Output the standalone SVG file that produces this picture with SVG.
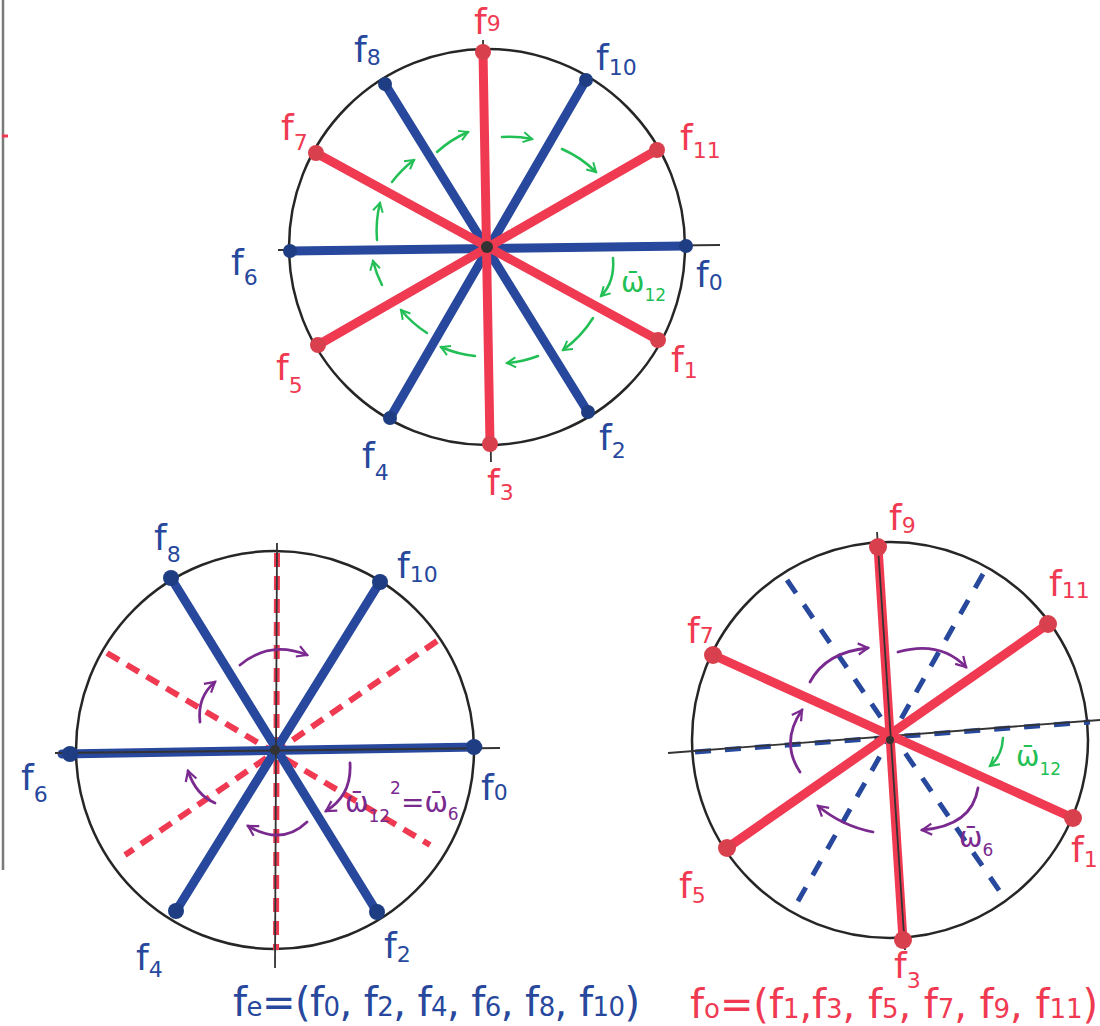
<svg xmlns="http://www.w3.org/2000/svg" width="1100" height="1026" viewBox="0 0 1100 1026">
<style>
.circ{fill:none;stroke:#262626;stroke-width:2.5}
.axis{stroke:#333;stroke-width:1.8;fill:none}
.sr{stroke:#f03a52;stroke-width:9;stroke-linecap:round}
.sb{stroke:#27489c;stroke-width:9;stroke-linecap:round}
.dr{stroke:#f03a52;stroke-width:6;stroke-dasharray:14 9}
.db{stroke:#27489c;stroke-width:5;stroke-dasharray:16 14}
.ndr{fill:#d9404d}
.ndb{fill:#1f3d82}
.lbl{font-family:"DejaVu Sans","Liberation Sans",sans-serif;font-size:36px}
.sub{font-size:22px}
.red{fill:#f03a52}
.blue{fill:#27489c}
.grn{fill:#22bf55}
.pur{fill:#7a2a8f}
.ga{fill:none;stroke:#22bf55;stroke-width:2.5;stroke-linecap:round;marker-end:url(#mg)}
.pa{fill:none;stroke:#7a2a8f;stroke-width:2.8;stroke-linecap:round;marker-end:url(#mp)}
.om{font-family:"DejaVu Sans",sans-serif;font-size:28px}
.frm{font-family:"DejaVu Sans","Liberation Sans",sans-serif;font-size:40px}
.fs{font-size:26px}
</style>
<defs>
<marker id="mg" viewBox="0 0 10 10" refX="8" refY="5" markerWidth="5" markerHeight="5" orient="auto" markerUnits="strokeWidth"><path d="M1,1 L8,5 L1,9" fill="none" stroke="#22bf55" stroke-width="1.6"/></marker>
<marker id="mp" viewBox="0 0 10 10" refX="8" refY="5" markerWidth="5" markerHeight="5" orient="auto" markerUnits="strokeWidth"><path d="M1,1 L8,5 L1,9" fill="none" stroke="#7a2a8f" stroke-width="1.6"/></marker>
</defs>
<rect width="1100" height="1026" fill="#ffffff"/>
<line x1="3" y1="0" x2="3" y2="870" stroke="#7a7a7a" stroke-width="2.5"/>
<line x1="2" y1="136" x2="8" y2="136" stroke="#f03a52" stroke-width="3"/>

<!-- TOP CIRCLE -->
<g id="top-circle">
<circle class="circ" cx="487" cy="247" r="198"/>
<line class="axis" x1="278" y1="250" x2="720" y2="245"/>
<line class="axis" x1="483" y1="40" x2="491" y2="462"/>
</g>
<g id="top-connectors">
<line class="sb" x1="290" y1="251" x2="686" y2="246"/>
<line class="sb" x1="385" y1="84" x2="588" y2="412"/>
<line class="sb" x1="586" y1="80" x2="390" y2="418"/>
<line class="sr" x1="483" y1="52" x2="490" y2="444"/>
<line class="sr" x1="316" y1="153" x2="658" y2="340"/>
<line class="sr" x1="318" y1="345" x2="657" y2="150"/>
<circle cx="487" cy="247" r="6" fill="#333"/>
<path class="ga" d="M437,152 A112,112 0 0 1 468,132"/>
<path class="ga" d="M502,137 A112,112 0 0 1 532,139"/>
<path class="ga" d="M562,149 A112,112 0 0 1 596,172"/>
<path class="ga" d="M613,258 Q615,282 601,296"/>
<path class="ga" d="M593,318 A112,112 0 0 1 563,350"/>
<path class="ga" d="M538,356 A112,112 0 0 1 507,363"/>
<path class="ga" d="M475,356 A112,112 0 0 1 441,347"/>
<path class="ga" d="M427,333 A112,112 0 0 1 401,310"/>
<path class="ga" d="M382,285 A112,112 0 0 1 373,261"/>
<path class="ga" d="M377,240 A112,112 0 0 1 380,203"/>
<path class="ga" d="M392,182 A112,112 0 0 1 414,160"/>
</g>
<g id="top-omega"><text class="om grn" x="621" y="292">ω̄<tspan font-size="17" dy="9">12</tspan></text></g>
<g id="top-f0"><circle class="ndb" cx="686" cy="246" r="7"/><text class="lbl blue" x="696" y="287">f<tspan class="sub" dy="3">0</tspan></text></g>
<g id="top-f1"><circle class="ndr" cx="658" cy="340" r="8"/><text class="lbl red" x="671" y="372">f<tspan class="sub" dy="6">1</tspan></text></g>
<g id="top-f2"><circle class="ndb" cx="588" cy="412" r="7"/><text class="lbl blue" x="599" y="450">f<tspan class="sub" dy="8">2</tspan></text></g>
<g id="top-f3"><circle class="ndr" cx="490" cy="444" r="8"/><text class="lbl red" x="487" y="495">f<tspan class="sub" dy="5">3</tspan></text></g>
<g id="top-f4"><circle class="ndb" cx="390" cy="418" r="7"/><text class="lbl blue" x="362" y="468">f<tspan class="sub" dy="12">4</tspan></text></g>
<g id="top-f5"><circle class="ndr" cx="318" cy="345" r="8"/><text class="lbl red" x="276" y="380">f<tspan class="sub" dy="13">5</tspan></text></g>
<g id="top-f6"><circle class="ndb" cx="290" cy="251" r="7"/><text class="lbl blue" x="231" y="275">f<tspan class="sub" dy="10">6</tspan></text></g>
<g id="top-f7"><circle class="ndr" cx="316" cy="153" r="8"/><text class="lbl red" x="281" y="140">f<tspan class="sub" dy="10">7</tspan></text></g>
<g id="top-f8"><circle class="ndb" cx="385" cy="84" r="7"/><text class="lbl blue" x="354" y="62">f<tspan class="sub" dy="3">8</tspan></text></g>
<g id="top-f9"><circle class="ndr" cx="483" cy="52" r="8"/><text class="lbl red" x="474" y="34">f<tspan class="sub" dy="-3">9</tspan></text></g>
<g id="top-f10"><circle class="ndb" cx="586" cy="80" r="7"/><text class="lbl blue" x="596" y="70">f<tspan class="sub" dy="5">10</tspan></text></g>
<g id="top-f11"><circle class="ndr" cx="657" cy="150" r="8"/><text class="lbl red" x="680" y="150">f<tspan class="sub" dy="8">11</tspan></text></g>

<!-- BOTTOM LEFT CIRCLE -->
<g id="bl-circle">
<circle class="circ" cx="275" cy="750" r="199"/>
</g>
<g id="bl-connectors">
<line class="dr" x1="277" y1="553" x2="276" y2="950"/>
<line class="dr" x1="107" y1="653" x2="430" y2="845"/>
<line class="dr" x1="437" y1="641" x2="125" y2="855"/>
<line class="sb" x1="62" y1="754" x2="478" y2="747"/>
<line class="sb" x1="171" y1="578" x2="377" y2="912"/>
<line class="sb" x1="380" y1="582" x2="176" y2="911"/>
<line class="axis" x1="55" y1="753" x2="500" y2="748"/>
<line class="axis" x1="277" y1="543" x2="275" y2="968"/>
<circle cx="275" cy="750" r="5" fill="#333"/>
<path class="pa" d="M240,665 Q270,640 307,655"/>
<path class="pa" d="M200,722 Q197,697 215,682"/>
<path class="pa" d="M215,803 Q196,795 188,771"/>
<path class="pa" d="M307,822 Q282,846 248,826"/>
<path class="pa" d="M350,763 Q352,795 326,811"/>
</g>
<g id="bl-omega"><text class="om pur" x="345" y="812">ω̄<tspan font-size="17" dy="10">12</tspan><tspan font-size="17" dy="-28">2</tspan><tspan dy="18">=ω̄</tspan><tspan font-size="17" dy="8">6</tspan></text></g>
<g id="bl-f0"><circle class="ndb" cx="474" cy="747" r="8"/><text class="lbl blue" x="481" y="800">f<tspan class="sub" dy="0">0</tspan></text></g>
<g id="bl-f2"><circle class="ndb" cx="377" cy="912" r="8"/><text class="lbl blue" x="384" y="958">f<tspan class="sub" dy="4">2</tspan></text></g>
<g id="bl-f4"><circle class="ndb" cx="176" cy="911" r="8"/><text class="lbl blue" x="136" y="970">f<tspan class="sub" dy="7">4</tspan></text></g>
<g id="bl-f6"><circle class="ndb" cx="70" cy="754" r="8"/><text class="lbl blue" x="21" y="790">f<tspan class="sub" dy="12">6</tspan></text></g>
<g id="bl-f8"><circle class="ndb" cx="171" cy="578" r="8"/><text class="lbl blue" x="154" y="550">f<tspan class="sub" dy="12">8</tspan></text></g>
<g id="bl-f10"><circle class="ndb" cx="380" cy="582" r="8"/><text class="lbl blue" x="397" y="578">f<tspan class="sub" dy="4">10</tspan></text></g>

<!-- BOTTOM RIGHT CIRCLE -->
<g id="br-circle">
<circle class="circ" cx="890" cy="740" r="198"/>
</g>
<g id="br-connectors">
<line class="db" x1="695" y1="752" x2="1090" y2="722"/>
<line class="db" x1="787" y1="580" x2="1007" y2="902"/>
<line class="db" x1="983" y1="574" x2="793" y2="910"/>
<line class="axis" x1="668" y1="753" x2="1100" y2="720"/>
<line class="sr" x1="878" y1="547" x2="903" y2="940"/>
<line class="sr" x1="713" y1="655" x2="1073" y2="818"/>
<line class="sr" x1="727" y1="848" x2="1048" y2="624"/>
<line class="axis" x1="877" y1="532" x2="905" y2="950"/>
<circle cx="890" cy="740" r="4" fill="#333"/>
<path class="pa" d="M810,682 Q826,652 868,648"/>
<path class="pa" d="M898,652 Q940,640 966,667"/>
<path class="pa" d="M800,772 Q780,742 802,710"/>
<path class="pa" d="M873,832 Q842,826 818,806"/>
<path class="pa" d="M978,788 Q972,826 922,830"/>
<path class="ga" d="M1003,738 Q1002,756 990,766"/>
</g>
<g id="br-omega12"><text class="om grn" x="1016" y="766">ω̄<tspan font-size="17" dy="9">12</tspan></text></g>
<g id="br-omega6"><text class="om pur" x="959" y="847">ω̄<tspan font-size="17" dy="9">6</tspan></text></g>
<g id="br-f1"><circle class="ndr" cx="1073" cy="818" r="9"/><text class="lbl red" x="1071" y="862">f<tspan class="sub" dy="5">1</tspan></text></g>
<g id="br-f3"><circle class="ndr" cx="903" cy="940" r="9"/><text class="lbl red" x="894" y="978">f<tspan class="sub" dy="10">3</tspan></text></g>
<g id="br-f5"><circle class="ndr" cx="727" cy="848" r="9"/><text class="lbl red" x="679" y="898">f<tspan class="sub" dy="5">5</tspan></text></g>
<g id="br-f7"><circle class="ndr" cx="713" cy="655" r="9"/><text class="lbl red" x="687" y="643">f<tspan class="sub" dy="0">7</tspan></text></g>
<g id="br-f9"><circle class="ndr" cx="878" cy="547" r="9"/><text class="lbl red" x="889" y="530">f<tspan class="sub" dy="3">9</tspan></text></g>
<g id="br-f11"><circle class="ndr" cx="1048" cy="624" r="9"/><text class="lbl red" x="1049" y="596">f<tspan class="sub" dy="2">11</tspan></text></g>

<!-- FORMULAS -->
<g id="formula-even"><text class="frm blue" x="233" y="1016" textLength="407" lengthAdjust="spacing">f<tspan class="fs">e</tspan>=(f<tspan class="fs">0</tspan>, f<tspan class="fs">2</tspan>, f<tspan class="fs">4</tspan>, f<tspan class="fs">6</tspan>, f<tspan class="fs">8</tspan>, f<tspan class="fs">10</tspan>)</text></g>
<g id="formula-odd"><text class="frm red" x="690" y="1018" textLength="408" lengthAdjust="spacing">f<tspan class="fs">o</tspan>=(f<tspan class="fs">1</tspan>,f<tspan class="fs">3</tspan>, f<tspan class="fs">5</tspan>, f<tspan class="fs">7</tspan>, f<tspan class="fs">9</tspan>, f<tspan class="fs">11</tspan>)</text></g>
</svg>
